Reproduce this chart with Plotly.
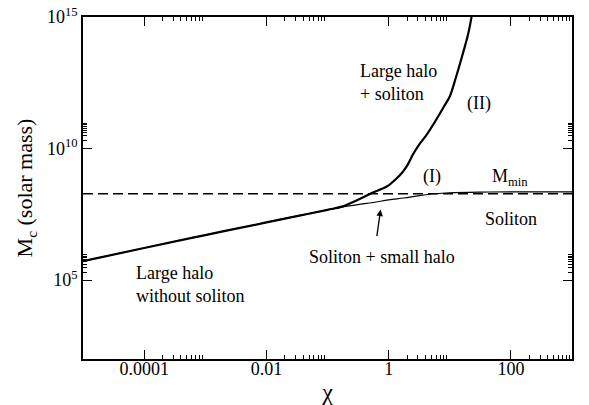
import plotly.graph_objects as go

# Scale parameter chi (dimensionless) and core mass M_c in solar masses
chi_low = [1e-5, 1e-4, 1e-3, 1e-2, 0.0316, 0.1, 0.178, 0.316, 0.562, 1.0,
           1.78, 3.16, 5.62, 10.0, 31.6, 100.0, 1000.0]
mass_low = [5.25e5, 1.66e6, 5.13e6, 1.55e7, 2.69e7, 4.68e7, 6.03e7, 7.41e7, 8.91e7, 1.12e8,
            1.32e8, 1.62e8, 1.91e8, 2.09e8, 2.21e8, 2.24e8, 2.24e8]

chi_up = [1e-5, 1e-4, 1e-3, 1e-2, 0.0316, 0.1, 0.178, 0.316, 0.501, 0.794, 1.0,
          1.26, 1.58, 2.0, 2.51, 3.16, 3.98, 5.01, 6.31, 7.94, 10.0,
          12.6, 15.8, 20.0, 22.9]
mass_up = [5.25e5, 1.66e6, 5.13e6, 1.55e7, 2.69e7, 4.68e7, 6.31e7, 1.12e8, 1.91e8, 3.02e8, 3.98e8,
           6.31e8, 1.05e9, 2.19e9, 6.03e9, 1.41e10, 2.82e10, 6.31e10, 1.51e11, 3.80e11, 9.55e11,
           5.01e12, 3.02e13, 2.24e14, 1.12e15]

m_min = 1.9e8
chi_span = [1e-5, 1e3]

x_tickvals = [1e-4, 1e-2, 1, 100]
x_ticktext = ["0.0001", "0.01", "1", "100"]
x_minor = [k * 1e-4 for k in range(2, 10)] + [k * 1e-2 for k in range(2, 10)] + \
          [k * 1.0 for k in range(2, 10)] + [k * 100.0 for k in range(2, 10)]
y_tickvals = [1e5, 1e10, 1e15]
y_ticktext = ["10<sup>5</sup>", "10<sup>10</sup>", "10<sup>15</sup>"]
y_minor = [k * 1e5 for k in range(2, 10)] + [k * 1e10 for k in range(2, 10)]

FONT = "Liberation Serif, serif"

fig = go.Figure()
fig.add_trace(go.Scatter(x=chi_span, y=[m_min, m_min], mode="lines",
                         line=dict(color="black", width=1.5, dash="10px,5px"),
                         hoverinfo="skip"))
fig.add_trace(go.Scatter(x=chi_low, y=mass_low, mode="lines", line_shape="spline",
                         line=dict(color="black", width=1.2)))
fig.add_trace(go.Scatter(x=chi_up, y=mass_up, mode="lines", line_shape="spline",
                         line=dict(color="black", width=2.2)))

# region labels: (text, log10 chi, log10 M, anchor)
labels = [
    ("Large halo<br>+ soliton", -0.507, 12.52, "left"),
    ("Large halo<br>without soliton", -4.173, 4.82, "left"),
    ("Soliton + small halo", -0.109, 5.89, "center"),
    ("Soliton", 2.01, 7.33, "center"),
    ("M<sub>min</sub>", 1.98, 8.89, "center"),
    ("(I)", 0.703, 8.94, "center"),
    ("(II)", 1.475, 11.72, "center"),
]
for text, lx, ly, anchor in labels:
    fig.add_annotation(x=lx, y=ly, text=text, showarrow=False, xanchor=anchor,
                       align=anchor, yanchor="middle",
                       font=dict(family=FONT, size=18, color="black"))

fig.add_annotation(x=-0.131, y=7.68, ax=-4, ay=28, text="", showarrow=True,
                   arrowhead=2, arrowsize=1, arrowwidth=1.3, arrowcolor="black")

axis_common = dict(
    type="log", showgrid=False, zeroline=False, showline=True, linecolor="black",
    linewidth=1.8, mirror="ticks", ticks="inside", ticklen=9, tickwidth=1.4,
    tickcolor="black", tickfont=dict(family=FONT, size=18, color="black"),
    automargin=False,
)

fig.update_xaxes(range=[-5, 3], tickvals=x_tickvals, ticktext=x_ticktext,
                 ticklabelstandoff=-8,
                 minor=dict(tickvals=x_minor, ticks="inside", ticklen=4.5,
                            tickwidth=1, tickcolor="black"),
                 title=dict(text="χ", font=dict(family=FONT, size=24, color="black"),
                            standoff=6),
                 **axis_common)
fig.update_yaxes(range=[2, 15], tickvals=y_tickvals, ticktext=y_ticktext,
                 minor=dict(tickvals=y_minor, ticks="inside", ticklen=4.5,
                            tickwidth=1, tickcolor="black"),
                 title=dict(text="M<sub>c</sub> (solar mass)",
                            font=dict(family=FONT, size=22, color="black"),
                            standoff=8),
                 **axis_common)

fig.update_layout(width=589, height=405, showlegend=False,
                  margin=dict(l=83, r=17, t=17, b=46),
                  plot_bgcolor="white", paper_bgcolor="white")

fig.write_html("out.html")
